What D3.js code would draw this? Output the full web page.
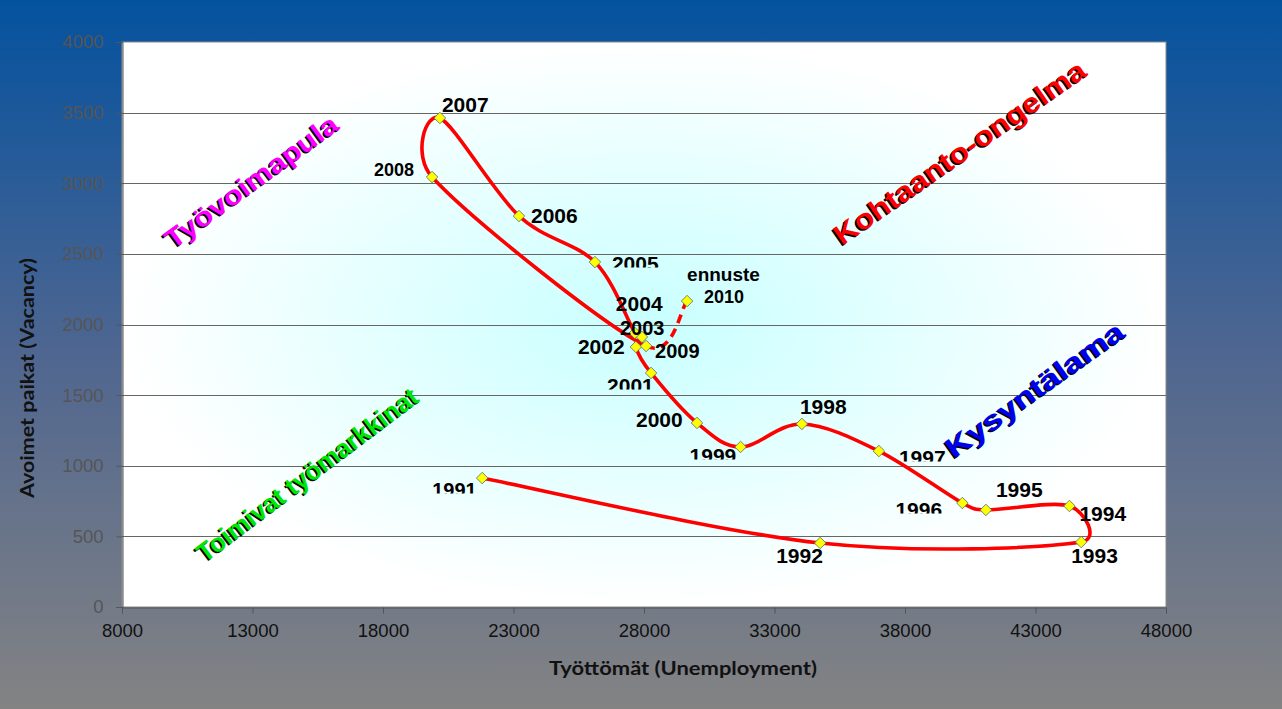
<!DOCTYPE html>
<html><head><meta charset="utf-8">
<script src="https://cdn.jsdelivr.net/npm/d3@7"></script>
<style>html,body{margin:0;padding:0;overflow:hidden;background:#808080}</style>
</head><body>
<svg id="c" width="1282" height="709"></svg>
<script>
// ---------- data ----------
const years = [1991,1992,1993,1994,1995,1996,1997,1998,1999,2000,2001,2002,2003,2004,2005,2006,2007,2008,2009,2010];
const unemployment = [21800,34750,44750,44300,41100,40200,37000,34050,31700,30030,28270,27690,27920,27650,26120,23210,20180,19880,28080,29650];
const vacancy = [913,453,460,715,687,736,1104,1296,1133,1303,1657,1841,1912,1940,2442,2768,3462,3044,1848,2166];
const xTicks = [8000,13000,18000,23000,28000,33000,38000,43000,48000];
const yTicks = [0,500,1000,1500,2000,2500,3000,3500,4000];
const forecastNote = "ennuste";
const zoneLabels = ["Työvoimapula","Kohtaanto-ongelma","Kysyntälama","Toimivat työmarkkinat"];
const xTitle = "Työttömät (Unemployment)";
const yTitle = "Avoimet paikat (Vacancy)";

// ---------- layout ----------
const W = 1282, H = 709;
const P = {left:122, right:1166, top:42, bottom:607};
// label offsets from each point (text start x, baseline y), size, clipped bottom
const labelLayout = {
  1991:[-50,19,20,1], 1992:[-44,20,21,0], 1993:[-10,21,21,0], 1994:[10,15,21,0],
  1995:[10,-13,21,0], 1996:[-67,14,21,1], 1997:[20,14,21,1], 1998:[-2,-10,21,0],
  1999:[-51,16,21,1], 2000:[-61,4,21,0], 2001:[-44,20,21,1], 2002:[-58,7,21,0],
  2003:[-22,-2,20,0], 2004:[-19,-22,21,0], 2005:[17,9,21,1], 2006:[12,7,21,0],
  2007:[2,-6,21,0], 2008:[-58,-1,18,0], 2009:[9,12,20,0], 2010:[17,2,18,0]
};
const zoneLayout = [
  {x:173, y:250, a:-36, len:207, fs:27, fill:"#ff00ff"},
  {x:842, y:246, a:-34.8, len:300, fs:28, fill:"#ff0000"},
  {x:954, y:459, a:-35.5, len:212, fs:28, fill:"#0000ee"},
  {x:205, y:563, a:-37, len:270, fs:26, fill:"#00e800"}
];

const svg = d3.select("#c");
const defs = svg.append("defs");
const bg = defs.append("linearGradient").attr("id","bg").attr("x1",0).attr("y1",0).attr("x2",0).attr("y2",1);
bg.append("stop").attr("offset","0%").attr("stop-color","#04529f");
bg.append("stop").attr("offset","50%").attr("stop-color","#4f6690");
bg.append("stop").attr("offset","100%").attr("stop-color","#838383");
const rg = defs.append("radialGradient").attr("id","pg").attr("cx","50%").attr("cy","50%").attr("r","50%");
rg.append("stop").attr("offset","0%").attr("stop-color","#c8ffff");
rg.append("stop").attr("offset","100%").attr("stop-color","#ffffff");

svg.append("rect").attr("width",W).attr("height",H).attr("fill","url(#bg)");

const x = d3.scaleLinear().domain([8000,48000]).range([P.left,P.right]);
const y = d3.scaleLinear().domain([0,4000]).range([P.bottom,P.top]);

// plot area
svg.append("rect").attr("x",P.left).attr("y",P.top).attr("width",P.right-P.left).attr("height",P.bottom-P.top)
  .attr("fill","url(#pg)").attr("stroke","#8a8a8a").attr("stroke-width",1);

// gridlines
svg.append("g").selectAll("line").data(yTicks.filter(v=>v>0 && v<4000)).join("line")
  .attr("x1",P.left).attr("x2",P.right).attr("y1",d=>Math.round(y(d))+0.5).attr("y2",d=>Math.round(y(d))+0.5)
  .attr("stroke","#666").attr("stroke-width",1);

// axes
const yAxis = svg.append("g").attr("transform",`translate(${P.left+0.5},0)`)
  .call(d3.axisLeft(y).tickValues(yTicks).tickSize(6).tickPadding(13).tickFormat(d3.format("d")));
yAxis.select(".domain").attr("stroke","#555");
yAxis.selectAll(".tick line").attr("stroke","#555");
yAxis.selectAll("text").attr("font-family","Liberation Sans, Arial, sans-serif").attr("font-size",18.5).attr("fill","#555");

const xAxis = svg.append("g").attr("transform",`translate(0,${P.bottom+0.5})`)
  .call(d3.axisBottom(x).tickValues(xTicks).tickSize(6).tickPadding(10).tickFormat(d3.format("d")));
xAxis.select(".domain").attr("stroke","#555");
xAxis.selectAll(".tick line").attr("stroke","#555");
xAxis.selectAll("text").attr("font-family","Liberation Sans, Arial, sans-serif").attr("font-size",18.5).attr("fill","#111");

// axis titles
svg.append("text").attr("x",683).attr("y",675).attr("text-anchor","middle")
  .attr("font-family","Lato, Open Sans, sans-serif").attr("font-weight","bold").attr("font-size",19.5)
  .attr("textLength",268).attr("lengthAdjust","spacingAndGlyphs").attr("fill","#111").text(xTitle);
svg.append("text").attr("transform","translate(34,378) rotate(-90)").attr("text-anchor","middle")
  .attr("font-family","Lato, Open Sans, sans-serif").attr("font-weight","bold").attr("font-size",19.5)
  .attr("textLength",240).attr("lengthAdjust","spacingAndGlyphs").attr("fill","#111").text(yTitle);

// zone annotations
zoneLabels.forEach((t,i)=>{
  const L = zoneLayout[i];
  const g = svg.append("g");
  [[-1.4,1.4,"#000"],[0,0,L.fill]].forEach(([dx,dy,c])=>{
    g.append("text").attr("transform",`translate(${L.x+dx},${L.y+dy}) rotate(${L.a})`)
      .attr("font-family","Liberation Sans, Arial, sans-serif").attr("font-weight","bold")
      .attr("font-size",L.fs).attr("textLength",L.len).attr("lengthAdjust","spacingAndGlyphs")
      .attr("fill",c).text(t);
  });
});

// data
const pts = years.map((yr,i)=>({year:yr, u:unemployment[i], v:vacancy[i]}));

// spreadsheet-style smoothing curve for d3.line (uniform Catmull-Rom tangents, clamped on short segments)
function SmoothCurve(context){ this._context = context; }
SmoothCurve.prototype = {
  areaStart(){}, areaEnd(){},
  lineStart(){ this._x = []; this._y = []; },
  point(px,py){ this._x.push(+px); this._y.push(+py); },
  lineEnd(){
    const X = this._x, Y = this._y, n = X.length, c = this._context;
    if (!n) return;
    c.moveTo(X[0], Y[0]);
    if (n === 2){ c.lineTo(X[1], Y[1]); return; }
    for (let i = 0; i < n-1; i++){
      const i0 = Math.max(i-1,0), i3 = Math.min(i+2,n-1);
      const m = Math.hypot(X[i+1]-X[i], Y[i+1]-Y[i]) * 0.5;
      let ax = (X[i+1]-X[i0])/6, ay = (Y[i+1]-Y[i0])/6;
      let bx = (X[i3]-X[i])/6, by = (Y[i3]-Y[i])/6;
      const la = Math.hypot(ax,ay); if (la > m){ ax *= m/la; ay *= m/la; }
      const lb = Math.hypot(bx,by); if (lb > m){ bx *= m/lb; by *= m/lb; }
      c.bezierCurveTo(X[i]+ax, Y[i]+ay, X[i+1]-bx, Y[i+1]-by, X[i+1], Y[i+1]);
    }
  }
};
const curveSmooth = ctx => new SmoothCurve(ctx);

const cmds = [];
const ctx = {
  moveTo:(a,b)=>cmds.push(["M",a,b]),
  lineTo:(a,b)=>cmds.push(["L",a,b]),
  bezierCurveTo:(a,b,c,d,e,f)=>cmds.push(["C",a,b,c,d,e,f]),
  closePath:()=>cmds.push(["Z"])
};
d3.line().x(d=>x(d.u)).y(d=>y(d.v)).curve(curveSmooth).context(ctx)(pts);
const toStr = arr => arr.map(c=>c[0]+c.slice(1).join(",")).join("");
const solid = cmds.slice(0, cmds.length-1);
const last = cmds[cmds.length-1];
const p2009 = pts[pts.length-2];
svg.append("path").attr("d",toStr(solid)).attr("fill","none").attr("stroke","#ff0000").attr("stroke-width",3.6).attr("stroke-linejoin","round");
svg.append("path").attr("d",toStr([["M",x(p2009.u),y(p2009.v)],last])).attr("fill","none")
  .attr("stroke","#ff0000").attr("stroke-width",3.6).attr("stroke-dasharray","9,6");

// markers
svg.append("g").selectAll("path").data(pts).join("path")
  .attr("transform",d=>`translate(${x(d.u)},${y(d.v)}) rotate(45)`)
  .attr("d",d3.symbol(d3.symbolSquare,66)())
  .attr("fill","#ffff00").attr("stroke","#55707a").attr("stroke-width",0.8);

// labels
pts.forEach(d=>{
  const [dx,dy,fs,clip] = labelLayout[d.year];
  const tx = x(d.u)+dx, ty = y(d.v)+dy;
  let sel = svg.append("text").attr("x",tx).attr("y",ty)
    .attr("font-family","Liberation Sans, Arial, sans-serif").attr("font-weight","bold").attr("font-size",fs)
    .attr("fill","#000").text(d.year);
  if (clip){
    const id = "cl"+d.year;
    defs.append("clipPath").attr("id",id).append("rect").attr("x",tx-5).attr("y",ty-30).attr("width",80).attr("height",30-3.5);
    sel.attr("clip-path",`url(#${id})`);
  }
});
const p2010 = pts[pts.length-1];
svg.append("text").attr("x",x(p2010.u)).attr("y",y(p2010.v)-20)
  .attr("font-family","Liberation Sans, Arial, sans-serif").attr("font-weight","bold").attr("font-size",19)
  .attr("fill","#000").text(forecastNote);
</script>
</body></html>
